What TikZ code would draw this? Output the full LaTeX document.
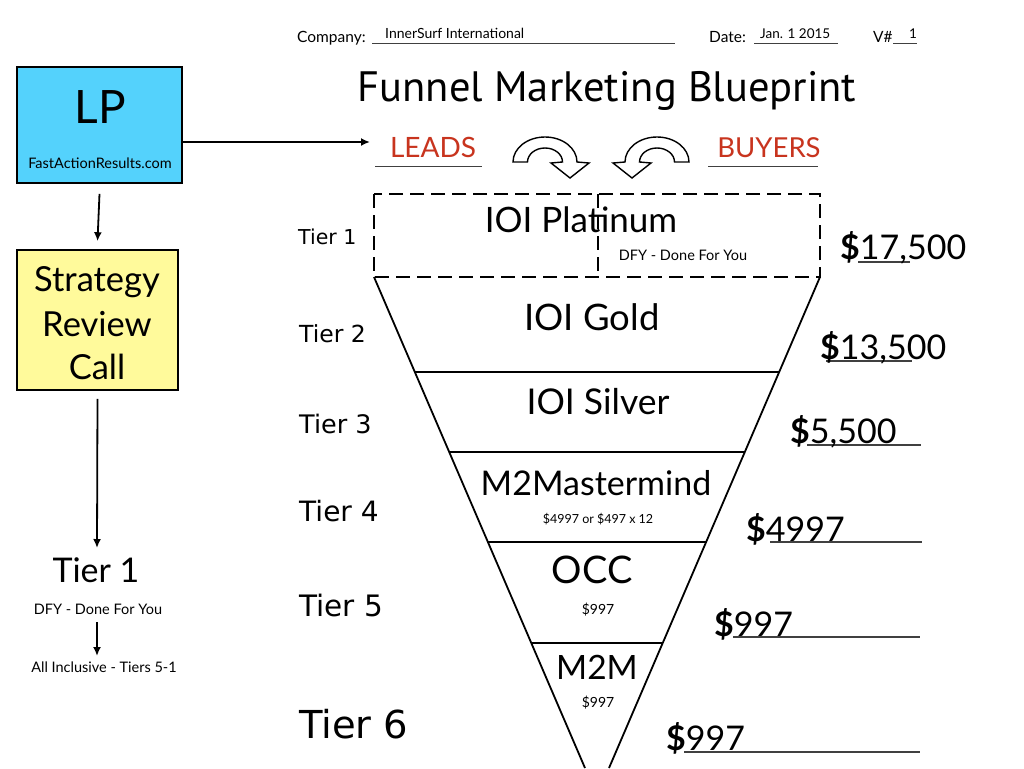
\documentclass[tikz,border=0pt]{standalone}
\usepackage{fontspec}
\setmainfont{Lato}
\newfontfamily\titlefont{PT Sans}
\newfontfamily\tierfont{DejaVu Sans}
\usetikzlibrary{arrows.meta,calc}
\newcommand\fsz[1]{\fontsize{#1}{#1}\selectfont}
\definecolor{lpcyan}{RGB}{84,210,252}
\definecolor{stryellow}{RGB}{255,250,155}
\definecolor{leadred}{RGB}{200,52,30}
\begin{document}
\begin{tikzpicture}[x=1pt,y=-1pt,
  txt/.style={inner sep=0pt,anchor=base},
  txtw/.style={inner sep=0pt,anchor=base west},
  uline/.style={line width=0.9pt,draw=black!75},
  arr/.style={line width=1.8pt,-{Latex[length=9pt,width=8pt]}},
  boxed/.style={draw=black,line width=1.6pt,inner sep=0pt},
  fline/.style={line width=1.8pt},
  dline/.style={line width=1.6pt,dash pattern=on 14pt off 7pt},
  uarrow/.style={line width=1.4pt,fill=white,line join=miter},
  price/.style={txtw,font=\fsz{34}},
  tier/.style={txtw,font=\tierfont},
  big/.style={txt,font=\fsz{34}},
  small/.style={txt,font=\fsz{12.5}}]
\useasboundingbox (0,0) rectangle (1024,768);
\fill[white] (0,0) rectangle (1024,768);

% header
\node[txtw,font=\fsz{15.5}] (comp) at (297,43) {Company:};
\draw[uline] (372,43.5) -- (675,43.5);
\node[txtw,font=\fsz{14}] (compname) at (385,39) {InnerSurf International};
\node[txtw,font=\fsz{15.5}] (datel) at (709,43) {Date:};
\draw[uline] (754,43.5) -- (838,43.5);
\node[txtw,font=\fsz{13.5}] (date) at (760,39) {Jan. 1 2015};
\node[txtw,font=\fsz{15.5}] (vl) at (873,43) {V\#};
\draw[uline] (893,43.5) -- (917,43.5);
\node[txtw,font=\fsz{13.5}] (vn) at (909,39) {1};

% title
\node[txt,font=\titlefont\fsz{42.5}] (title) at (607,101) {Funnel Marketing Blueprint};

% leads / buyers
\node[txt,font=\fsz{28},text=leadred] (leads) at (433,157) {LEADS};
\draw[uline] (375,166) -- (482,166);
\node[txt,font=\fsz{27.5},text=leadred] (buyers) at (769,157) {BUYERS};
\draw[uline] (708,166) -- (818,166);

% curved arrows
\draw[uarrow] (513,162) arc[start angle=180,end angle=360,x radius=32,y radius=25]
  -- (589,163) -- (570,178) -- (551,163) -- (562.5,162)
  arc[start angle=360,end angle=180,x radius=17.5,y radius=14] -- cycle;
\begin{scope}[xshift=1202pt,xscale=-1]
\draw[uarrow] (513,162) arc[start angle=180,end angle=360,x radius=32,y radius=25]
  -- (589,163) -- (570,178) -- (551,163) -- (562.5,162)
  arc[start angle=360,end angle=180,x radius=17.5,y radius=14] -- cycle;
\end{scope}

% left flow
\node[boxed,fill=lpcyan,minimum width=165pt,minimum height=116pt] (lp) at (99.5,125) {};
\node[txt,font=\fsz{46}] (lptxt) at (100,123) {LP};
\node[txt,font=\fsz{14.5}] (lpurl) at (100,168) {FastActionResults.com};
\node[boxed,fill=stryellow,minimum width=161pt,minimum height=140pt] (strat) at (97.5,320) {};
\node[txt,font=\fsz{34.5}] (s1) at (97,291) {Strategy};
\node[txt,font=\fsz{34.5}] (s2) at (97,336) {Review};
\node[txt,font=\fsz{34.5}] (s3) at (97,379) {Call};
\node[txt,font=\fsz{34}] (t1) at (96,582) {Tier 1};
\node[txt,font=\fsz{14.5}] (dfy) at (98,614) {DFY - Done For You};
\node[txt,font=\fsz{14.5}] (allinc) at (104,672) {All Inclusive - Tiers 5-1};

\coordinate (leadsin) at (370,142);
\draw[arr] (lp.east |- leadsin) -- (leadsin);
\draw[arr] ([yshift=-10pt]lp.south) -- ([yshift=8pt]strat.north);
\draw[arr] ([yshift=-8pt]strat.south) -- (97,548);
\draw[arr] (97,622) -- (97,656);

% funnel
\coordinate (ftl) at (374,277);
\coordinate (ftr) at (820,277);
\coordinate (fbl) at (585,768);
\coordinate (fbr) at (609,768);
\draw[dline] (374,194) rectangle (820,277);
\draw[dline] (598,194) -- (598,277);
\draw[fline] (ftl) -- (fbl);
\draw[fline] (ftr) -- (fbr);
\foreach \f in {0.1935,0.3564,0.5397,0.7454}
  \draw[fline] ($(ftl)!\f!(fbl)$) -- ($(ftr)!\f!(fbr)$);

\node[txt,font=\fsz{35}] (plat) at (581,232) {IOI Platinum};
\node[txt,font=\fsz{14.5}] (platdfy) at (683,260) {DFY - Done For You};
\node[txt,font=\fsz{36.5}] (gold) at (592,330) {IOI Gold};
\node[txt,font=\fsz{35.5}] (silver) at (598,414) {IOI Silver};
\node[big] (m2mm) at (596,495) {M2Mastermind};
\node[small] (m2mmp) at (598,523) {\$4997 or \$497 x 12};
\node[txt,font=\fsz{38}] (occ) at (592,583) {OCC};
\node[txt,font=\fsz{14}] (occp) at (598,614) {\$997};
\node[txt,font=\fsz{33.5}] (m2m) at (597,679) {M2M};
\node[txt,font=\fsz{14}] (m2mp) at (598,707) {\$997};

% tier labels
\node[tier,font=\tierfont\fsz{20.5}] (tr1) at (298,244) {Tier 1};
\node[tier,font=\tierfont\fsz{23.5}] (tr2) at (299,342) {Tier 2};
\node[tier,font=\tierfont\fsz{25.5}] (tr3) at (299,433) {Tier 3};
\node[tier,font=\tierfont\fsz{28}] (tr4) at (299,521) {Tier 4};
\node[tier,font=\tierfont\fsz{29.5}] (tr5) at (299,616) {Tier 5};
\node[tier,font=\tierfont\fsz{38.5}] (tr6) at (299,738) {Tier 6};

% prices
\draw[uline,line width=1.2pt] (858,262) -- (910,262);
\node[price] (p1) at (840,259) {{\bfseries\$}17,500};
\draw[uline,line width=1.2pt] (826,361) -- (912,361);
\node[price] (p2) at (820,359) {{\bfseries\$}13,500};
\draw[uline,line width=1.2pt] (807,445) -- (921,445);
\node[price] (p3) at (790,443) {{\bfseries\$}5,500};
\draw[uline,line width=1.2pt] (770,542) -- (922,542);
\node[price] (p4) at (746,541) {{\bfseries\$}4997};
\draw[uline,line width=1.2pt] (733,637) -- (920,637);
\node[price] (p5) at (714,636) {{\bfseries\$}997};
\draw[uline,line width=1.2pt] (684,752) -- (920,752);
\node[price] (p6) at (666,750) {{\bfseries\$}997};
\end{tikzpicture}
\end{document}
